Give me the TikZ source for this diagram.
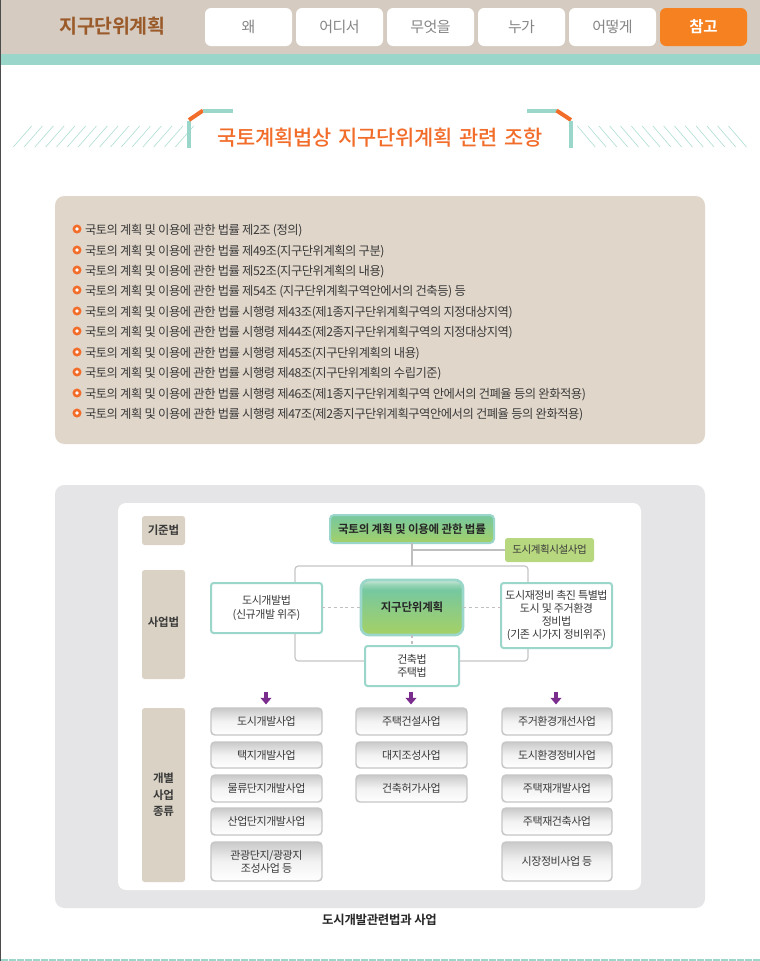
\documentclass[tikz,border=0pt]{standalone}
\usepackage{fontspec}
\setmainfont{Noto Sans CJK KR}
\newfontfamily\krreg[LetterSpace=-4]{Noto Sans CJK KR}
\newfontfamily\krbold[LetterSpace=-2]{Noto Sans CJK KR Bold}
\newfontfamily\krmed[LetterSpace=-1,WordSpace=1.5]{Noto Sans CJK KR Medium}
\usetikzlibrary{arrows.meta,calc}
\definecolor{hdrbg}{HTML}{D5CBC0}
\definecolor{teal}{HTML}{9AD6C9}
\definecolor{orng}{HTML}{F68121}
\definecolor{ttl}{HTML}{F26C2A}
\definecolor{brn}{HTML}{9A5A2A}
\definecolor{pan}{HTML}{E0D6CA}
\definecolor{gpan}{HTML}{E5E5E7}
\definecolor{lab}{HTML}{DAD3C5}
\definecolor{txt}{HTML}{3A3A3A}
\definecolor{prp}{HTML}{7B2D8E}
\definecolor{grnA}{HTML}{76C8A0}
\definecolor{grnB}{HTML}{A3D068}
\definecolor{grnL}{HTML}{CFE8DA}
\definecolor{plan}{HTML}{B8D880}
\pgfdeclareverticalshading{jigushade}{100bp}{color(0bp)=(grnB); color(27bp)=(grnB); color(50bp)=(grnA!55!grnB); color(66bp)=(grnA); color(71bp)=(grnA!60!grnL); color(75bp)=(grnL); color(100bp)=(grnL)}
\newcommand{\px}[1]{\fontsize{\dimexpr#1pt*3/4\relax}{\dimexpr#1pt*9/10\relax}\selectfont}
\newcommand{\bx}[7]{%
 \pgfmathsetmacro\bw{(#4-#2)*0.75}\pgfmathsetmacro\bh{(#5-#3)*0.75}%
 \node[#6,inner sep=0pt,outer sep=0pt,minimum width=\bw pt,minimum height=\bh pt,align=center] (#1) at ({(#2+#4)/2},{(#3+#5)/2}) {#7};}
\tikzset{
 navbtn/.style={fill=white,rounded corners=4.5pt,text=gray!95,font=\krreg\px{15}},
 navon/.style={fill=orng,rounded corners=4.5pt,text=white,font=\krbold\px{15.5}},
 labbox/.style={fill=lab,rounded corners=2pt,text=txt,font=\krbold\px{11.5}},
 lawbox/.style={fill=white,draw=teal,line width=1.5pt,rounded corners=2pt,text=txt,font=\krreg\px{11}},
 subbox/.style={top color=gray!42,bottom color=white,middle color=gray!10,draw=gray!45,line width=1.1pt,rounded corners=3pt,text=txt,font=\krreg\px{11}},
 topbox/.style={top color=grnA,bottom color=grnB,draw=teal,line width=1.5pt,rounded corners=3pt,text=black!85,font=\krbold\px{11.5}},
 jigubox/.style={shading=jigushade,draw=teal,line width=2pt,rounded corners=6pt,text=black!85,font=\krbold\px{11.5}},
 planbox/.style={fill=plan,rounded corners=2pt,text=txt,font=\krreg\px{10.5}},
 lawline/.style={anchor=west,inner sep=0pt,outer sep=0pt,text=txt,font=\krreg\px{12.3}},
 conn/.style={draw=gray!50,line width=0.9pt},
 dashconn/.style={draw=gray!50,line width=0.8pt,dash pattern=on 2.2pt off 2.2pt},
 down/.style={draw=prp,line width=2.6pt,-{Triangle[length=5pt,width=8pt]}},
 hatch/.style={draw=teal!80,line width=0.45pt},
 brk/.style={draw=teal,line width=3pt},
 brko/.style={draw=ttl,line width=3pt},
}
\begin{document}
\begin{tikzpicture}[x=0.75pt,y=-0.75pt]
\useasboundingbox (0,0) rectangle (760,961);
\fill[white] (0,0) rectangle (760,961);
\fill[black!70] (0,0) rectangle (1,961);
% header
\fill[hdrbg] (1,0) rectangle (760,54);
\fill[teal] (1,54) rectangle (760,64.5);
\node[text=brn,font=\krbold\px{19.5}] (hdr) at (112.5,26) {지구단위계획};
\bx{n1}{205}{8}{292}{46}{navbtn}{왜}
\bx{n2}{296}{8}{383}{46}{navbtn}{어디서}
\bx{n3}{387}{8}{474}{46}{navbtn}{무엇을}
\bx{n4}{478}{8}{565}{46}{navbtn}{누가}
\bx{n5}{569}{8}{656}{46}{navbtn}{어떻게}
\bx{n6}{660}{8}{747}{46}{navon}{참고}
% title
\foreach \i in {0,...,15} \draw[hatch] ({13.3+\i*10.8},147) -- ({31.7+\i*10.8},126);
\foreach \i in {0,...,14} \draw[hatch] ({577.3+\i*10.8},126) -- ({595.3+\i*10.8},147);
\draw[brk] (189,148) -- (189,121);
\draw[brko] (189,120) -- (203,110.5);
\draw[brk] (203,110.5) -- (233,110.5);
\draw[brk] (527,110.5) -- (556.5,110.5);
\draw[brko] (556.5,110.5) -- (571,120);
\draw[brk] (570.5,121) -- (570.5,148);
\node[text=ttl,font=\krmed\px{20.9}] (title) at (380,137.5) {국토계획법상 지구단위계획 관련 조항};
% panel 1
\bx{p1}{55}{196}{705}{444}{fill=pan,rounded corners=7pt}{}
\foreach \y/\t [count=\k] in {
229/{국토의 계획 및 이용에 관한 법률 제2조 (정의)},
250/{국토의 계획 및 이용에 관한 법률 제49조(지구단위계획의 구분)},
270/{국토의 계획 및 이용에 관한 법률 제52조(지구단위계획의 내용)},
290/{국토의 계획 및 이용에 관한 법률 제54조 (지구단위계획구역안에서의 건축등) 등},
311/{국토의 계획 및 이용에 관한 법률 시행령 제43조(제1종지구단위계획구역의 지정대상지역)},
331/{국토의 계획 및 이용에 관한 법률 시행령 제44조(제2종지구단위계획구역의 지정대상지역)},
352/{국토의 계획 및 이용에 관한 법률 시행령 제45조(지구단위계획의 내용)},
372/{국토의 계획 및 이용에 관한 법률 시행령 제48조(지구단위계획의 수립기준)},
393/{국토의 계획 및 이용에 관한 법률 시행령 제46조(제1종지구단위계획구역 안에서의 건폐율 등의 완화적용)},
413/{국토의 계획 및 이용에 관한 법률 시행령 제47조(제2종지구단위계획구역안에서의 건폐율 등의 완화적용)}}{
 \fill[ttl] (77,\y) circle (3.4pt);
 \fill[white] (77,\y) circle (1.4pt);
 \node[lawline] (law\k) at (85,\y+1.6) {\t};
}
% panel 2
\bx{p2}{55}{485}{705}{908}{fill=gpan,rounded corners=7pt}{}
\bx{p3}{118}{503}{641}{890}{fill=white,rounded corners=6pt}{}
\bx{l1}{142}{516}{185}{545}{labbox}{기준법}
\bx{l2}{142}{570}{185}{679}{labbox}{\raisebox{3.5pt}{사업법}}
\bx{l3}{142}{708}{185}{882}{labbox}{개별\\[2pt]사업\\[2pt]종류}
% frame and connectors
\bx{frame}{295}{566}{528}{661}{draw=gray!45,line width=0.9pt,rounded corners=2.5pt}{}
\bx{top}{330}{515}{494}{543}{topbox}{국토의 계획 및 이용에 관한 법률}
\bx{fac}{505}{538}{594}{562}{planbox}{도시계획시설사업}
\draw[conn] (top.south) -- (top.south |- frame.north);
\draw[conn] (top.south |- fac.west) -- (fac.west);
\bx{dev}{211}{583}{322}{633}{lawbox}{도시개발법\\(신규개발 위주)}
\bx{jigu}{361}{580}{463}{635}{jigubox}{지구단위계획}
\bx{reno}{501}{583}{612}{648}{lawbox}{\raisebox{-0.7pt}{도시재정비 촉진 특별법}\\\raisebox{-0.7pt}{도시 및 주거환경}\\\raisebox{-0.7pt}{정비법}\\\raisebox{-0.7pt}{(기존 시가지 정비위주)}}
\bx{arch}{365}{646}{459}{686}{lawbox}{건축법\\주택법}
\draw[dashconn] (dev.east |- jigu.west) -- (jigu.west);
\draw[dashconn] (jigu.east) -- (reno.west |- jigu.east);
\draw[dashconn] (jigu.south) -- (jigu.south |- arch.north);
% sub-boxes
\bx{a1}{211}{708}{322}{735}{subbox}{도시개발사업}
\bx{a2}{211}{742}{322}{768}{subbox}{택지개발사업}
\bx{a3}{211}{775}{322}{802}{subbox}{물류단지개발사업}
\bx{a4}{211}{808}{322}{835}{subbox}{산업단지개발사업}
\bx{a5}{211}{842}{322}{881}{subbox}{관광단지/광광지\\조성사업 등}
\bx{b1}{356}{708}{467}{735}{subbox}{주택건설사업}
\bx{b2}{356}{742}{467}{768}{subbox}{대지조성사업}
\bx{b3}{356}{775}{467}{802}{subbox}{건축허가사업}
\bx{c1}{502}{708}{612}{735}{subbox}{주거환경개선사업}
\bx{c2}{502}{742}{612}{768}{subbox}{도시환경정비사업}
\bx{c3}{502}{775}{612}{802}{subbox}{주택재개발사업}
\bx{c4}{502}{808}{612}{835}{subbox}{주택재건축사업}
\bx{c5}{502}{842}{612}{881}{subbox}{시장정비사업 등}
% arrows
\foreach \x/\n in {266/A,411/B,556/C}{
 \coordinate (s\n) at (\x,691.5);
 \coordinate (e\n) at (\x,704.5);
 \draw[down] (s\n) -- (e\n);
}
\node[text=black!85,font=\krbold\px{12.4}] (cap) at (379.5,920) {도시개발관련법과 사업};
\draw[teal,line width=0.8pt,dash pattern=on 5pt off 1pt] (1,960) -- (760,960);
\end{tikzpicture}
\end{document}
